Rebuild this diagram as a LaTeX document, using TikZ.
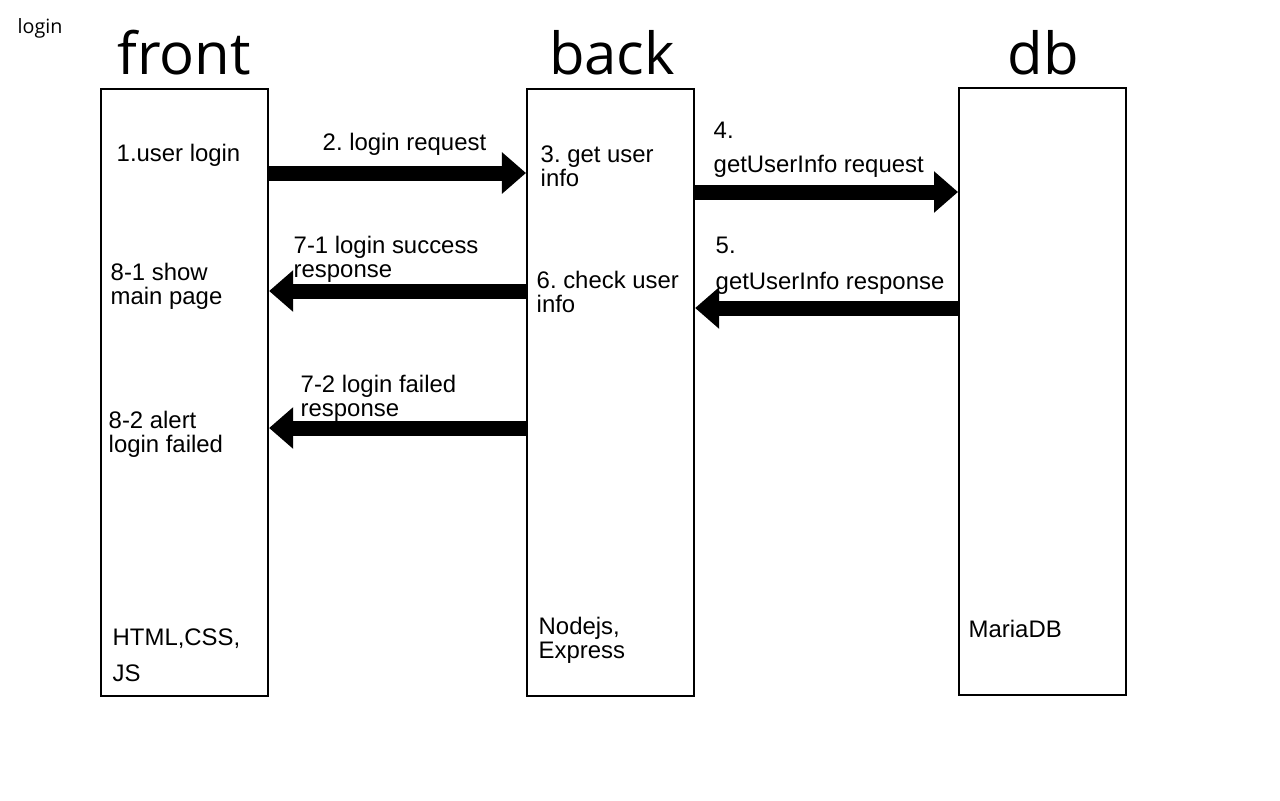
\documentclass[tikz,border=0pt]{standalone}
\usepackage{fontspec}
\setmainfont{Liberation Sans}
\newfontfamily\titlefont{Open Sans}
\frenchspacing
\usetikzlibrary{arrows.meta}
\tikzset{
  box/.style={draw, line width=0.02cm, anchor=north west, inner sep=0pt, minimum width=1.67cm, minimum height=6.07cm},
  lbl/.style={anchor=west, inner sep=0pt, align=left, font=\fontsize{6.8pt}{6.9pt}\selectfont},
  ttl/.style={anchor=base, inner sep=0pt, font=\titlefont\fontsize{16.5pt}{18pt}\selectfont},
  bigarrow/.style={line width=0.15cm, -{Triangle[length=0.24cm, width=0.40cm]}},
}
\begin{document}
\begin{tikzpicture}[x=0.01cm, y=-0.01cm]
\useasboundingbox (0,0) rectangle (1280,800);
\fill[white] (0,0) rectangle (1280,800);

\node[anchor=base west, inner sep=0pt, font=\titlefont\fontsize{5.6pt}{6pt}\selectfont] (pagetitle) at (17,34) {login};

\node[ttl] (tfront) at (184,74) {front};
\node[ttl] (tback) at (612,74) {back};
\node[ttl] (tdb) at (1043,74) {db};

\node[box] (front) at (100,88) {};
\node[box] (back) at (526,88) {};
\node[box] (db) at (958,87) {};

% row coordinates
\coordinate (r1) at (0,173);
\coordinate (r2) at (0,192);
\coordinate (r3) at (0,308);
\coordinate (r4) at (0,291);
\coordinate (r5) at (0,428);

\draw[bigarrow] (front.east |- r1) -- (back.west |- r1);
\draw[bigarrow] (back.east |- r2) -- (db.west |- r2);
\draw[bigarrow] (db.west |- r3) -- (back.east |- r3);
\draw[bigarrow] (back.west |- r4) -- (front.east |- r4);
\draw[bigarrow] (back.west |- r5) -- (front.east |- r5);

% front texts
\node[lbl] (t1) at (116,155) {1.user login};
\node[lbl] (t81) at (110,286) {8-1 show\\main page};
\node[lbl] (t82) at (108,434) {8-2 alert\\login failed};
\node[lbl] (tfe) at (112,655) {HTML,CSS,\\[3.3pt]JS};

% back texts
\node[lbl] (t3) at (540,166) {3. get user\\info};
\node[lbl] (t6) at (536,292) {6. check user\\info};
\node[lbl] (tbe) at (538,640) {Nodejs,\\Express};

% db text
\node[lbl] (tdbe) at (968,629) {MariaDB};

% arrow labels
\node[lbl] (t2) at (322,144) {2. login request};
\node[lbl] (t4) at (713,150) {4.\\[2.8pt]getUserInfo request};
\node[lbl] (t5) at (715,266) {5.\\[3.3pt]getUserInfo response};
\node[lbl] (t71) at (293,259) {7-1 login success\\response};
\node[lbl] (t72) at (300,398) {7-2 login failed\\response};
\end{tikzpicture}
\end{document}
